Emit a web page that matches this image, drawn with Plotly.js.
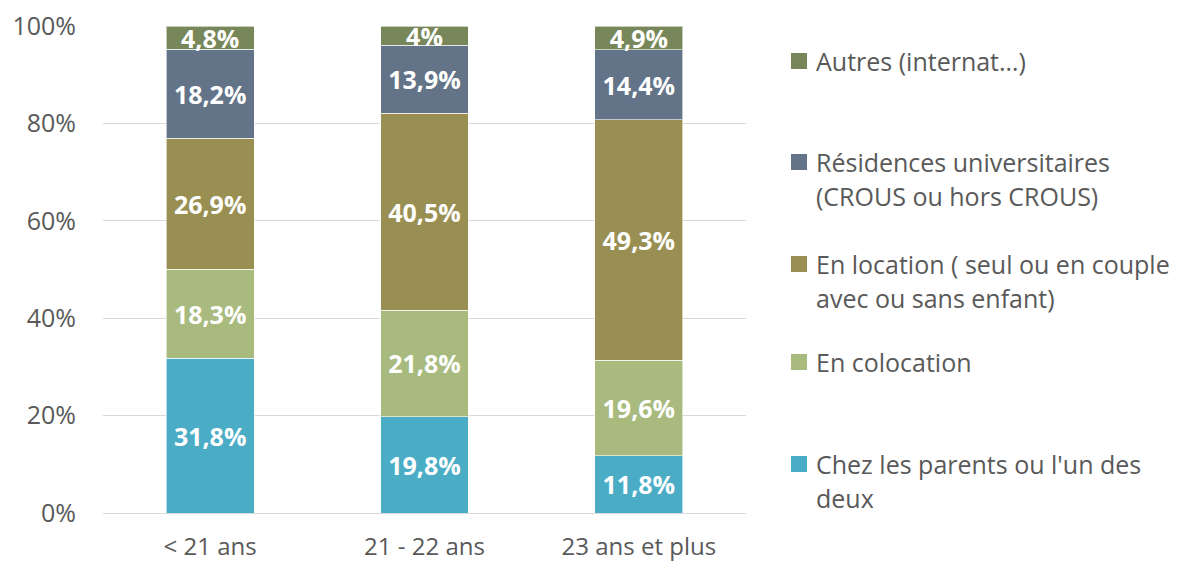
<!DOCTYPE html>
<html>
<head>
<meta charset="utf-8">
<script src="https://cdn.plot.ly/plotly-3.0.1.min.js"></script>
<style>html,body{margin:0;padding:0;background:#fff;}#chart{width:1181px;height:563px;}</style>
</head>
<body>
<div id="chart"></div>
<script>
const categories = ["< 21 ans", "21 - 22 ans", "23 ans et plus"];
const seriesNames = ["Chez les parents ou l'un des deux", "En colocation", "En location ( seul ou en couple avec ou sans enfant)", "Résidences universitaires (CROUS ou hors CROUS)", "Autres (internat…)"];
const legendLines = [["Chez les parents ou l'un des", "deux"], ["En colocation"], ["En location ( seul ou en couple", "avec ou sans enfant)"], ["Résidences universitaires", "(CROUS ou hors CROUS)"], ["Autres (internat…)"]];
const parents = [31.8, 19.8, 11.8];
const colocation = [18.3, 21.8, 19.6];
const location_ = [26.9, 40.5, 49.3];
const residences = [18.2, 13.9, 14.4];
const autres = [4.8, 4.0, 4.9];
const colors = ["#4BACC6", "#A8BA7E", "#9A8F52", "#637488", "#77875A"];
const yTicks = [0, 20, 40, 60, 80, 100];

const series = [parents, colocation, location_, residences, autres];
const fmt = v => (Math.round(v * 10) / 10).toString().replace('.', ',') + '%';
const FONT = "Open Sans, sans-serif";

const traces = series.map((vals, i) => ({
  type: 'bar', x: categories, y: vals, name: seriesNames[i],
  marker: {color: colors[i], line: {color: 'rgba(255,255,255,0.6)', width: 1}},
  text: vals.map(fmt), textposition: 'inside', insidetextanchor: 'middle',
  textangle: 0, constraintext: 'none',
  textfont: {family: FONT, size: 25, color: '#ffffff', weight: 'bold'},
  hoverinfo: 'skip'
}));

// legend drawn as annotations + shapes
const L = 103, R = 746, T = 26, B = 513;
const px2x = p => (p - L) / (R - L);
const py2y = p => (B - p) / (B - T);
const legendY = [464, 362, 264, 162, 61];
const lineGap = 34;
const annotations = [];
const shapes = [];
legendLines.forEach((lines, i) => {
  const y0 = legendY[i];
  shapes.push({type: 'rect', xref: 'paper', yref: 'paper',
    x0: px2x(791), x1: px2x(807), y0: py2y(y0 - 8), y1: py2y(y0 + 8),
    fillcolor: colors[i], line: {width: 0}});
  lines.forEach((t, k) => {
    annotations.push({xref: 'paper', yref: 'paper', x: px2x(814), y: py2y(y0 + k * lineGap),
      xanchor: 'left', yanchor: 'middle', text: t, showarrow: false,
      font: {family: FONT, size: 25, color: '#595959'}});
  });
});

const layout = {
  width: 1181, height: 563,
  margin: {l: L, r: 1181 - R, t: T, b: 563 - B},
  paper_bgcolor: '#fff', plot_bgcolor: '#fff',
  barmode: 'stack', bargap: 0.59, showlegend: false,
  font: {family: FONT, color: '#595959'},
  uniformtext: {mode: 'show', minsize: 25},
  xaxis: {type: 'category', showgrid: false, zeroline: false, showline: true,
    linecolor: '#d9d9d9', linewidth: 1, ticks: '', ticklabelstandoff: 12,
    tickfont: {family: FONT, size: 24, color: '#595959'}, fixedrange: true},
  yaxis: {range: [0, 100], tickvals: yTicks, ticktext: yTicks.map(v => v + '%'),
    showgrid: true, gridcolor: '#d9d9d9', gridwidth: 1, zeroline: false,
    showline: false, ticks: '', ticklabelstandoff: 26,
    tickfont: {family: FONT, size: 25, color: '#595959'}, fixedrange: true},
  annotations: annotations, shapes: shapes
};

Plotly.newPlot('chart', traces, layout, {staticPlot: true, displayModeBar: false});
</script>
</body>
</html>
